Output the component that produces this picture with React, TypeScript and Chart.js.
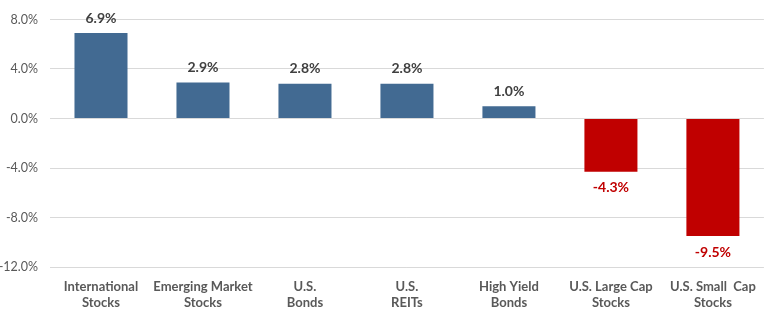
import React, { useEffect, useRef } from "react";
import { Chart, registerables } from "chart.js";

Chart.register(...registerables);

const categories: string[][] = [
  ["International", "Stocks"],
  ["Emerging Market", "Stocks"],
  ["U.S.", "Bonds"],
  ["U.S.", "REITs"],
  ["High Yield", "Bonds"],
  ["U.S. Large Cap", "Stocks"],
  ["U.S. Small  Cap", "Stocks"],
];
const returns: number[] = [6.9, 2.9, 2.8, 2.8, 1.0, -4.3, -9.5];
const yTicks: number[] = [8, 4, 0, -4, -8, -12];

const BLUE = "#426A92";
const RED = "#C00000";
const FONT = "Lato, 'Liberation Sans', sans-serif";

const labelPlugin = {
  id: "valueLabels",
  afterDatasetsDraw(chart: any) {
    const ctx = chart.ctx;
    const meta = chart.getDatasetMeta(0);
    ctx.save();
    ctx.font = `bold 14px ${FONT}`;
    ctx.textAlign = "center";
    ctx.textBaseline = "middle";
    meta.data.forEach((bar: any, i: number) => {
      const v = returns[i];
      const txt = v.toFixed(1) + "%";
      if (v >= 0) {
        ctx.fillStyle = "#404040";
        ctx.fillText(txt, bar.x, bar.y - 15);
      } else {
        ctx.fillStyle = RED;
        ctx.fillText(txt, bar.x, bar.y + 16);
      }
    });
    ctx.restore();
  },
};

export default function App() {
  const ref = useRef<HTMLCanvasElement>(null);
  useEffect(() => {
    if (!ref.current) return;
    const chart = new Chart(ref.current, {
      type: "bar",
      data: {
        labels: categories,
        datasets: [
          {
            data: returns,
            backgroundColor: returns.map((v) => (v >= 0 ? BLUE : RED)),
            categoryPercentage: 1,
            barPercentage: 0.52,
          },
        ],
      },
      options: {
        animation: false,
        responsive: false,
        maintainAspectRatio: false,
        layout: { padding: { top: 0, right: 3, bottom: 0, left: 0 } },
        plugins: { legend: { display: false }, tooltip: { enabled: false } },
        scales: {
          x: {
            grid: { display: false, drawTicks: false },
            border: { display: false },
            ticks: {
              color: "#595959",
              font: { family: FONT, size: 13, weight: "bold" },
              padding: 12,
              maxRotation: 0,
              autoSkip: false,
            },
            afterFit(scale: any) {
              scale.height = 55;
            },
          },
          y: {
            min: -12,
            max: 8,
            afterBuildTicks(scale: any) {
              scale.ticks = yTicks.map((v) => ({ value: v }));
            },
            grid: { color: "#D9D9D9", drawTicks: false, lineWidth: 1 },
            border: { display: false },
            ticks: {
              color: "#595959",
              font: { family: FONT, size: 12.5 },
              padding: 12,
              callback: (v: any) => Number(v).toFixed(1) + "%",
            },
            afterFit(scale: any) {
              scale.width = 50;
            },
          },
        },
      },
      plugins: [labelPlugin],
    } as any);
    return () => chart.destroy();
  }, []);
  return (
    <div style={{ position: "fixed", left: 0, top: 0, width: 768, height: 322, background: "#fff" }}>
      <canvas ref={ref} width={768} height={322} />
    </div>
  );
}
